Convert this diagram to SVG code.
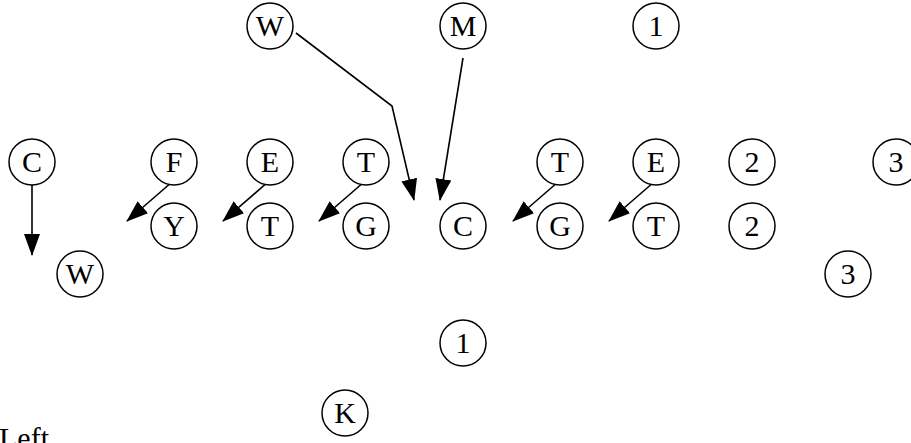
<svg xmlns="http://www.w3.org/2000/svg" width="911" height="443" viewBox="0 0 911 443">
<style>
.n circle{fill:#fff;stroke:#000;stroke-width:1.5}
.n text{font-family:"Liberation Serif","Times New Roman",serif;font-size:30px;text-anchor:middle;fill:#000}
.c path{fill:none;stroke:#000;stroke-width:1.6}
.lbl{font-family:"Liberation Serif","Times New Roman",serif;font-size:30px;fill:#000}
</style>
<defs>
<marker id="ah" markerUnits="userSpaceOnUse" markerWidth="22" markerHeight="17" refX="21" refY="8" orient="auto" viewBox="0 0 22 16">
<path d="M0,0 L22,8 L0,16 z" fill="#000"/>
</marker>
</defs>
<g class="c" id="connectors">
<path d="M32,185 L32,255" marker-end="url(#ah)"/>
<path d="M172,182 L127,221" marker-end="url(#ah)"/>
<path d="M268,182 L223,221" marker-end="url(#ah)"/>
<path d="M364,182 L319,221" marker-end="url(#ah)"/>
<path d="M558,182 L513,221" marker-end="url(#ah)"/>
<path d="M654,182 L609,221" marker-end="url(#ah)"/>
<path d="M296,33 L392,106 L414,200" marker-end="url(#ah)"/>
<path d="M463,58 L440,200" marker-end="url(#ah)"/>
</g>
<g class="n" id="n-w-top"><circle cx="270" cy="26" r="23"/><text x="270" y="36">W</text></g>
<g class="n" id="n-m"><circle cx="463" cy="26" r="23"/><text x="463" y="36">M</text></g>
<g class="n" id="n-1-top"><circle cx="656" cy="26" r="23"/><text x="656" y="36">1</text></g>
<g class="n" id="n-c-left"><circle cx="32" cy="162" r="23"/><text x="32" y="172">C</text></g>
<g class="n" id="n-f"><circle cx="174" cy="162" r="23"/><text x="174" y="172">F</text></g>
<g class="n" id="n-e-left"><circle cx="270" cy="162" r="23"/><text x="270" y="172">E</text></g>
<g class="n" id="n-t-left"><circle cx="366" cy="162" r="23"/><text x="366" y="172">T</text></g>
<g class="n" id="n-t-right"><circle cx="560" cy="162" r="23"/><text x="560" y="172">T</text></g>
<g class="n" id="n-e-right"><circle cx="656" cy="162" r="23"/><text x="656" y="172">E</text></g>
<g class="n" id="n-2-top"><circle cx="752" cy="162" r="23"/><text x="752" y="172">2</text></g>
<g class="n" id="n-3-top"><circle cx="896" cy="162" r="23"/><text x="896" y="172">3</text></g>
<g class="n" id="n-y"><circle cx="174" cy="226" r="23"/><text x="174" y="236">Y</text></g>
<g class="n" id="n-t-lt"><circle cx="270" cy="226" r="23"/><text x="270" y="236">T</text></g>
<g class="n" id="n-g-left"><circle cx="366" cy="226" r="23"/><text x="366" y="236">G</text></g>
<g class="n" id="n-c-center"><circle cx="463" cy="226" r="23"/><text x="463" y="236">C</text></g>
<g class="n" id="n-g-right"><circle cx="560" cy="226" r="23"/><text x="560" y="236">G</text></g>
<g class="n" id="n-t-rt"><circle cx="656" cy="226" r="23"/><text x="656" y="236">T</text></g>
<g class="n" id="n-2-bot"><circle cx="752" cy="226" r="23"/><text x="752" y="236">2</text></g>
<g class="n" id="n-w-bot"><circle cx="80" cy="274" r="23"/><text x="80" y="284">W</text></g>
<g class="n" id="n-3-bot"><circle cx="848" cy="274" r="23"/><text x="848" y="284">3</text></g>
<g class="n" id="n-1-bot"><circle cx="463" cy="343" r="23"/><text x="463" y="353">1</text></g>
<g class="n" id="n-k"><circle cx="345" cy="413" r="23"/><text x="345" y="423">K</text></g>
<text class="lbl" x="-1" y="448">Left</text>
</svg>
